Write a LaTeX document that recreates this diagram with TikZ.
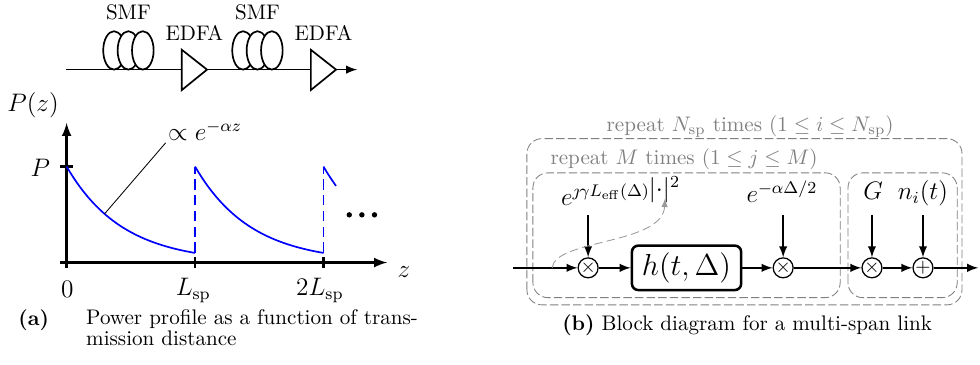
\documentclass[tikz,border=0pt]{standalone}
\usepackage{amsfonts, amssymb, amsmath}
\usetikzlibrary{arrows,positioning,calc,shapes.geometric}
\newcommand{\Lsp}{L_{\mathrm{sp}}}
\newcommand{\Nsp}{N_{\mathrm{sp}}}
\tikzset{
  mult/.style={circle, draw, semithick, fill=white, minimum size=0.27cm, inner sep=0pt, font=\small},
  rep/.style={gray, dash pattern=on 4pt off 1.5pt, rounded corners=0.25cm},
  blk/.style={draw, very thick, rounded corners=3pt, minimum width=1.82cm, minimum height=0.73cm, font=\Large},
  axis/.style={line width=1.1pt},
}

\begin{document}
\begin{tikzpicture}[font=\normalsize]
        \useasboundingbox (0,0) rectangle (16.33,6.08);
        %fiber link
        \coordinate (fin) at (1.10, 4.92);
        \coordinate (fout) at (5.95, 4.92);
        \path [draw, thick, -latex] (fin) -- (fout);
        \foreach \x/\n in {0/1, 2.15/2} {
          \foreach \dx in {1.90, 2.14, 2.38}
            \draw [thick, fill=white] (\x+\dx, 5.24) ellipse (0.18 and 0.32);
          \draw [thick, fill=white] (\x+3.03, 5.25) -- (\x+3.45, 4.92) -- (\x+3.03, 4.58) -- cycle;
          \node (smf\n) at (\x+2.14, 5.87) {SMF};
          \node (edfa\n) at (\x+3.24, 5.53) {EDFA};
        }
        %axes
        \coordinate (xs) at (1.00, 1.705);
        \coordinate (xe) at (6.45, 1.705);
        \coordinate (ys) at (1.11, 1.62);
        \coordinate (ye) at (1.11, 4.03);
        \path [draw, axis, -latex] (xs) -- (xe);
        \path [draw, axis, -latex] (ys) -- (ye);
        \node[anchor=west, font=\large] (zlab) at (6.50, 1.55) {$z$};
        \node[font=\large] (pzlab) at (0.55, 4.33) {$P(z)$};
        \draw [axis] (1.00, 3.305) -- (1.22, 3.305);
        \node[font=\large] (plab) at (0.67, 3.29) {$P$};
        \foreach \x in {3.25, 5.39}
          \draw [axis] (\x, 1.62) -- (\x, 1.80);
        \node[font=\large] (t0) at (1.12, 1.26) {$0$};
        \node[font=\large] (t1) at (3.22, 1.24) {$\Lsp$};
        \node[font=\large] (t2) at (5.33, 1.24) {$2\Lsp$};
        %power curves
        \foreach \s/\l in {1.11/2.14, 3.25/2.14, 5.39/0.21}
          \draw [blue, thick] plot[domain=0:\l, samples=40] ({\s+\x}, {1.705+1.6*exp(-2.3*\x/2.14)});
        \foreach \x in {3.25, 5.39}
          \draw [blue, thick, dash pattern=on 5pt off 2.5pt] (\x, 1.865) -- (\x, 3.305);
        \foreach \x in {5.82, 6.03, 6.24}
          \fill (\x, 2.50) circle (0.045);
        \coordinate (onc) at (1.742, 2.516);
        \node[anchor=south west, inner sep=1pt, font=\large] (decay) at (2.76, 3.70) {$\propto e^{-\alpha z}$};
        \draw (onc) -- (decay.south west);
        %caption a
        \node[anchor=north west, inner sep=0pt] (capa) at (0.30, 0.93) {\textbf{(a)}};
        \node[anchor=north west, inner sep=0pt, align=left] (capatext) at (1.43, 0.93) {Power profile as a function of trans-\\[-2pt]mission distance};

        %repeat boxes
        \draw [rep] (8.78, 1.00) rectangle (16.03, 3.77);
        \draw [rep] (8.88, 1.12) rectangle (14.00, 3.20);
        \draw [rep] (14.13, 1.12) rectangle (15.95, 3.20);
        \node[gray] (outerlab) at (12.50, 3.97) {repeat $\Nsp$ times $(1 \le i \le \Nsp)$};
        \node[gray] (innerlab) at (11.40, 3.42) {repeat $M$ times $(1 \le j \le M)$};
        %blocks
        \coordinate (sin) at (8.55, 1.617);
        \node[mult] (m1) at (9.80, 1.617) {$\times$};
        \node[blk] (h) at (11.44, 1.617) {$h(t,\Delta)$};
        \node[mult] (m2) at (13.05, 1.617) {$\times$};
        \node[mult] (m3) at (14.53, 1.617) {$\times$};
        \node[mult] (add) at (15.38, 1.617) {$+$};
        \coordinate (sout) at (16.30, 1.617);
        \node[anchor=base, font=\large] (nl) at (10.35, 2.65) {$e^{\jmath\gamma L_{\mathrm{eff}}(\Delta)\textstyle|{\cdot}|^2}$};
        \node[anchor=base, font=\large] (att) at (13.03, 2.70) {$e^{-\alpha\Delta/2}$};
        \node[anchor=base, font=\large] (gain) at (14.55, 2.75) {$G$};
        \node[anchor=base, font=\large] (noise) at (15.38, 2.75) {$n_i(t)$};
        \coordinate (top) at (0, 2.50);
        %edges
        \path [draw, thick, -latex] (sin) -- (m1);
        \path [draw, thick, -latex] (m1) -- (h);
        \path [draw, thick, -latex] (h) -- (m2);
        \path [draw, thick, -latex] (m2) -- (m3);
        \path [draw, thick, -latex] (m3) -- (add);
        \path [draw, thick, -latex] (add) -- (sout);
        \foreach \n in {m1, m2, m3, add}
          \path [draw, thick, -latex] (\n |- top) -- (\n);
        \coordinate (tap) at (9.20, 1.617);
        \coordinate (dot) at (11.08, 2.77);
        \draw [gray!80, dash pattern=on 4pt off 2pt, -latex] (tap) .. controls (9.25, 2.10) and (11.05, 2.00) .. (dot);
        %caption b
        \node (capb) at (12.45, 0.667) {\textbf{(b)} Block diagram for a multi-span link};
      \end{tikzpicture}
\end{document}
